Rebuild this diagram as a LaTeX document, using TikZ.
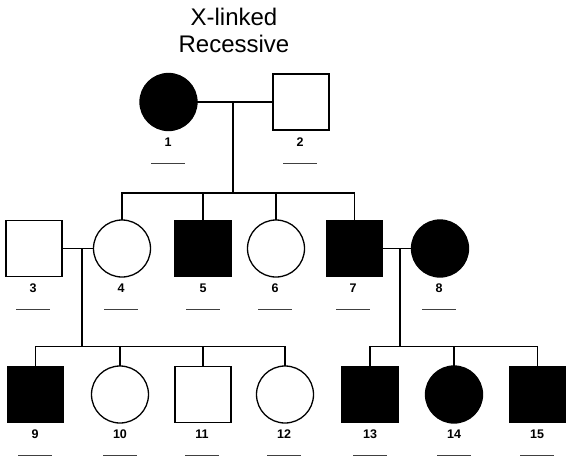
\documentclass[tikz,border=0pt]{standalone}
\usepackage{fontspec}
\setmainfont{Liberation Sans}
\usetikzlibrary{calc}
\begin{document}
\begin{tikzpicture}[x=1pt,y=-1pt,
  person/.style={draw=black,line width=1.3pt,inner sep=0pt,outer sep=0pt},
  male/.style={person,rectangle,minimum size=56pt},
  female/.style={person,circle,minimum size=57pt},
  aff/.style={fill=black},
  unaff/.style={fill=white},
  lbl/.style={font=\fontsize{12.5}{14}\selectfont\bfseries,inner sep=0pt},
  link/.style={draw=black,line width=1.1pt},
  uline/.style={draw=black!75,line width=1pt}]
\useasboundingbox (0,0) rectangle (568,464);
\node[align=center,font=\fontsize{24}{27}\selectfont,inner sep=0pt] (title) at (234,30) {X-linked\\Recessive};
% generation I
\node[female,aff] (p1) at (168.5,102) {};
\node[male,unaff] (p2) at (301,102) {};
% generation II
\node[male,unaff] (p3) at (34,248.5) {};
\node[female,unaff] (p4) at (122,248.5) {};
\node[male,aff] (p5) at (203,248.5) {};
\node[female,unaff] (p6) at (276,248.5) {};
\node[male,aff] (p7) at (354.5,248.5) {};
\node[female,aff] (p8) at (440,248.5) {};
% generation III
\node[male,aff] (p9) at (35.7,394.5) {};
\node[female,unaff] (p10) at (120,394.5) {};
\node[male,unaff] (p11) at (203,394.5) {};
\node[female,unaff] (p12) at (285,394.5) {};
\node[male,aff] (p13) at (370,394.5) {};
\node[female,aff] (p14) at (454,394.5) {};
\node[male,aff] (p15) at (537.5,394.5) {};
% labels
\foreach \i/\x/\y in {1/168/142,2/300/142,3/33/288,4/121/288,5/203/288,6/275/288,7/353/288,8/439/288,
  9/35/434,10/120/434,11/202/434,12/284/434,13/370/434,14/454/434,15/537/434}{
  \node[lbl] (l\i) at (\x,\y) {\i};
  \draw[uline] ($(l\i)+(-17,21)$) -- ($(l\i)+(17,21)$);
}
% couples
\coordinate (m12) at (233,102);
\coordinate (m34) at (82,248.5);
\coordinate (m78) at (400,248.5);
\draw[link] (p1) -- (p2);
\draw[link] (p3) -- (p4);
\draw[link] (p7) -- (p8);
% sibships
\coordinate (s1) at (233,193);
\coordinate (s2) at (82,346.5);
\coordinate (s3) at (400,346.5);
\draw[link] (m12) -- (s1);
\draw[link] (p4.north) |- (s1) -| (p7.north);
\draw[link] (s1) -| (p5.north);
\draw[link] (s1) -| (p6.north);
\draw[link] (m34) -- (s2);
\draw[link] (p9.north) |- (s2) -| (p12.north);
\draw[link] (s2) -| (p10.north);
\draw[link] (s2) -| (p11.north);
\draw[link] (m78) -- (s3);
\draw[link] (p13.north) |- (s3) -| (p15.north);
\draw[link] (s3) -| (p14.north);
\end{tikzpicture}
\end{document}
